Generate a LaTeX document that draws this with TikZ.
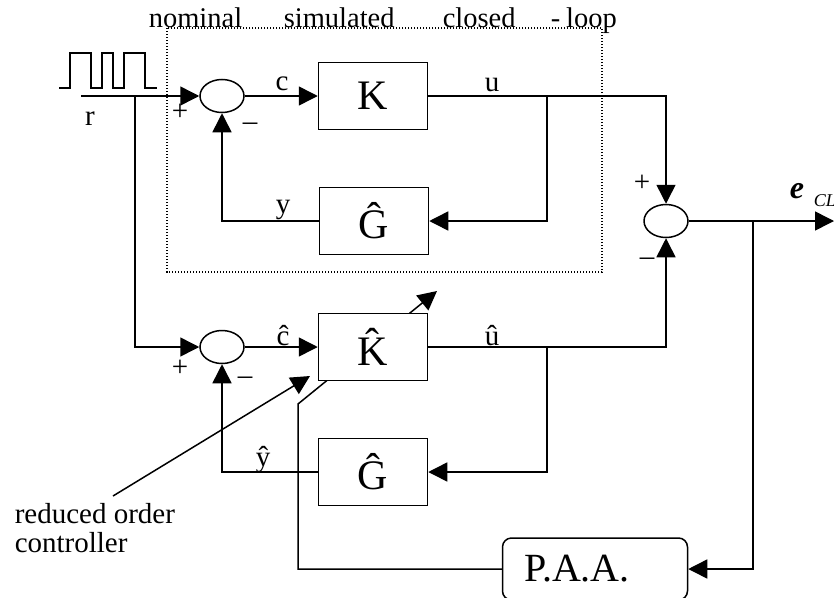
\documentclass[tikz,border=0pt]{standalone}
\usepackage{fontspec}
\setmainfont{Liberation Serif}
\usetikzlibrary{shapes.geometric,arrows.meta}
\tikzset{
  sumnode/.style={draw, ellipse, minimum width=44pt, minimum height=33pt, inner sep=0pt},
  blk/.style={draw, fill=white, minimum width=109pt, minimum height=67pt, inner sep=0pt, font=\fontsize{42}{42}\selectfont},
  paabox/.style={draw, fill=white, rounded corners=9pt, minimum width=185pt, minimum height=62pt, inner sep=0pt},
  lbl/.style={font=\fontsize{29}{31}\selectfont, inner sep=0pt},
  ttl/.style={font=\fontsize{28.5}{30}\selectfont, inner sep=0pt},
  bigtxt/.style={font=\fontsize{40}{40}\selectfont, inner sep=0pt},
  arr/.style={-{Triangle[length=19pt,width=19pt]}},
  framebox/.style={line width=1.3pt, dash pattern=on 1.3pt off 1.7pt},
}
\begin{document}
\begin{tikzpicture}[x=1pt,y=-1pt,line width=1.5pt]
\clip (0,0) rectangle (834,597);
\fill[white] (0,0) rectangle (834,597);

% dotted frame and title
\draw[framebox] (167,28) rectangle (602,272);
\node[ttl, anchor=base west] (t1) at (148,27) {nominal};
\node[ttl, anchor=base west] (t2) at (283,27) {simulated};
\node[ttl, anchor=base west] (t3) at (442,27) {closed};
\node[ttl, anchor=base west] (t4) at (550,27) {-\hspace{6pt}loop};

% square wave
\draw[line width=1.4pt] (59,88) -- (70,88) -- (70,53) -- (91,53) -- (91,88) -- (102,88) -- (102,53)
  -- (113,53) -- (113,88) -- (124,88) -- (124,53) -- (145,53) -- (145,88) -- (157,88);

% nodes
\node[sumnode] (s1) at (222,96) {};
\node[blk] (K) at (373,96) {K};
\node[blk] (G1) at (374,221) {Ĝ};
\node[sumnode] (s2) at (666,221) {};
\node[sumnode] (s3) at (222,347) {};
\node[blk] (G2) at (373,472) {Ĝ};
\node[paabox] (P) at (595,569) {};
\node[bigtxt] (Ptxt) at (577,569) {P.A.A.};

\coordinate (rin) at (81,96);
\coordinate (rb) at (135,96);
\coordinate (bu) at (547,96);
\coordinate (uc) at (666,96);
\coordinate (bu2) at (547,347);
\coordinate (eb) at (753,221);
\coordinate (eout) at (834,221);
\coordinate (tk1) at (298,404);
\coordinate (tk2) at (437,291);
\coordinate (rtxt) at (113,496);
\coordinate (rtip) at (310,376);

% adaptation path (drawn below K-hat box)
\draw[arr] (P.west) -| (tk1) -- (tk2);
\node[blk] (Kh) at (373,347) {K̂};

% connectors
\draw[arr] (rin) -- (s1.west);
\draw[arr] (s1.east) -- (K.west);
\draw[arr] (K.east) -- (uc) -- (s2.north);
\draw[arr] (bu) |- (G1.east);
\draw[arr] (G1.west) -| (s1.south);
\draw[arr] (rb) |- (s3.west);
\draw[arr] (s3.east) -- (Kh.west);
\draw[arr] (Kh.east) -| (s2.south);
\draw[arr] (bu2) |- (G2.east);
\draw[arr] (G2.west) -| (s3.south);
\draw[arr] (s2.east) -- (eout);
\draw[arr] (eb) |- (P.east);
\draw[arr] (rtxt) -- (rtip);

% labels
\node[lbl, anchor=base] (lr) at (90,125) {r};
\node[lbl, anchor=base] (lc) at (282,90) {c};
\node[lbl, anchor=base] (lu) at (492,91) {u};
\node[lbl, anchor=base] (ly) at (283,213) {y};
\node[lbl, anchor=base] (lch) at (283,345) {ĉ};
\node[lbl, anchor=base] (luh) at (492,345) {û};
\node[lbl, anchor=base] (lyh) at (263,466) {ŷ};
\node[lbl] (p1) at (180,112) {+};
\node[lbl] (m1) at (250,127) {–};
\node[lbl] (p3) at (180,368) {+};
\node[lbl] (m3) at (245,381) {–};
\node[lbl] (p2) at (642,183) {+};
\node[lbl] (m2) at (647,262) {–};
\node[anchor=base west, inner sep=0pt, font=\fontsize{32}{32}\selectfont\bfseries\itshape] (le) at (789,198) {e};
\node[anchor=base west, inner sep=0pt, font=\fontsize{18}{18}\selectfont\itshape] (lcl) at (813,206) {CL};
\node[lbl, anchor=base west] (roc) at (14,523) {reduced order};
\node[lbl, anchor=base west] (roc2) at (14,552) {controller};
\end{tikzpicture}
\end{document}
